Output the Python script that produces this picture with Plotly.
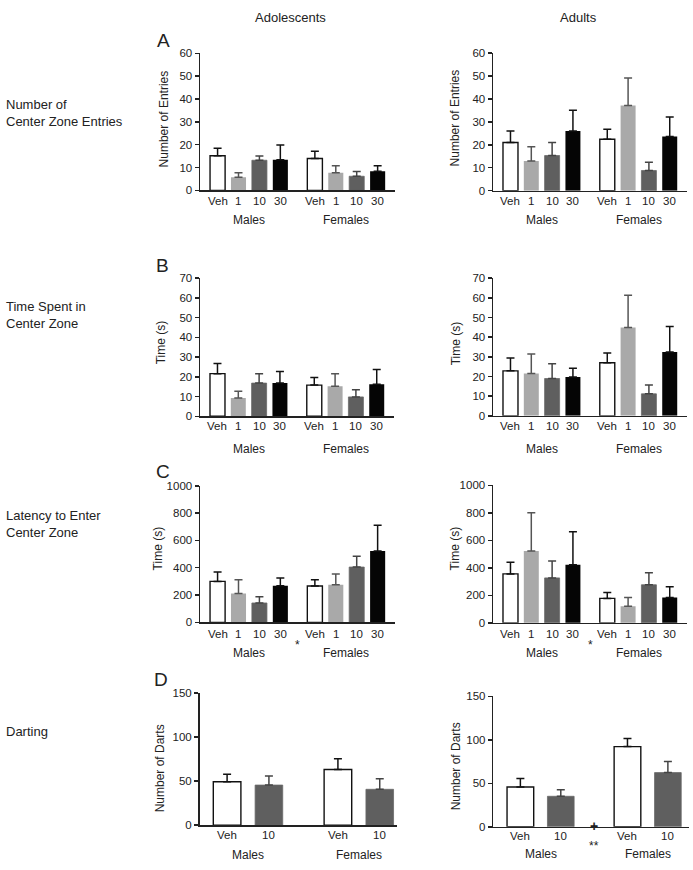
import plotly.graph_objects as go

W, H = 693, 870

# ---------------- data ----------------
doses = ["Veh", "1", "10", "30"]
dart_doses = ["Veh", "10"]
groups = ["Males", "Females"]

# order: Males Veh,1,10,30, Females Veh,1,10,30
entries_adol_mean = [15.2, 5.8, 13.2, 13.4, 14.0, 7.7, 6.2, 8.4]
entries_adol_sem = [3.3, 1.9, 1.9, 6.5, 3.2, 3.1, 2.1, 2.4]
entries_adult_mean = [21.0, 12.9, 15.3, 26.0, 22.4, 37.1, 8.8, 23.6]
entries_adult_sem = [5.0, 6.2, 5.7, 9.0, 4.3, 11.9, 3.6, 8.5]

time_adol_mean = [21.6, 9.3, 16.8, 16.8, 15.8, 15.2, 9.8, 16.2]
time_adol_sem = [5.2, 3.4, 4.7, 5.9, 3.9, 6.3, 3.7, 7.5]
time_adult_mean = [22.9, 21.5, 19.0, 19.8, 27.0, 44.9, 11.2, 32.5]
time_adult_sem = [6.5, 10.0, 7.5, 4.4, 4.9, 16.4, 4.5, 12.9]

latency_adol_mean = [300, 211, 142, 268, 266, 276, 405, 523]
latency_adol_sem = [69, 101, 45, 56, 46, 79, 79, 189]
latency_adult_mean = [356, 523, 327, 423, 178, 121, 277, 184]
latency_adult_sem = [84, 277, 123, 240, 43, 63, 88, 78]

# order: Males Veh,10, Females Veh,10
darts_adol_mean = [49.3, 45.6, 63.3, 40.8]
darts_adol_sem = [8.5, 10.4, 12.3, 11.9]
darts_adult_mean = [45.7, 35.1, 92.2, 62.3]
darts_adult_sem = [9.8, 7.5, 9.4, 12.9]

# ---------------- styles ----------------
FONT = "Liberation Sans, Arial, sans-serif"
AX = "#222222"
dose_style = {
    "Veh": dict(fill="#ffffff", line="#111111", lw=1.4, err="#111111"),
    "1": dict(fill="#a9a9a9", line="#a9a9a9", lw=0, err="#555555"),
    "10": dict(fill="#5f5f5f", line="#6a6a6a", lw=0.8, err="#444444"),
    "30": dict(fill="#050505", line="#050505", lw=0, err="#111111"),
}


def px_x(p):
    return p / W


def px_y(p):
    return 1 - p / H


panels = [
    ((200, 395, 48, 187), entries_adol_mean, entries_adol_sem, doses, 60, 10, "Number of Entries", 164, 115, 4),
    ((493, 687, 47.5, 187.3), entries_adult_mean, entries_adult_sem, doses, 60, 10, "Number of Entries", 455, 114, 4),
    ((200, 394, 276, 416), time_adol_mean, time_adol_sem, doses, 70, 10, "Time (s)", 161, 341, 4),
    ((493, 687, 276, 415.6), time_adult_mean, time_adult_sem, doses, 70, 10, "Time (s)", 456, 342, 4),
    ((200, 395, 486.5, 625), latency_adol_mean, latency_adol_sem, doses, 1000, 200, "Time (s)", 158, 550, 4),
    ((493, 687, 486, 625.5), latency_adult_mean, latency_adult_sem, doses, 1000, 200, "Time (s)", 455, 550, 4),
    ((199.5, 397.3, 696.7, 830.7), darts_adol_mean, darts_adol_sem, dart_doses, 150, 50, "Number of Darts", 160, 773, 2),
    ((493.3, 689.3, 700, 832.3), darts_adult_mean, darts_adult_sem, dart_doses, 150, 50, "Number of Darts", 456, 771, 2),
]

tick_label_y = [198, 198, 426, 426, 637, 637, 841, 842]
group_label_y = [217, 217, 449, 449, 656, 656, 861, 860]

fig = go.Figure()
annotations = []
layout = dict(
    width=W, height=H, margin=dict(l=0, r=0, t=0, b=0),
    paper_bgcolor="white", plot_bgcolor="white",
    showlegend=False, barmode="overlay",
    font=dict(family=FONT, size=11, color=AX),
)

for i, (box, mean, sem, labels, ymax, dtick, ytitle, tx, ty, n) in enumerate(panels):
    k = i + 1
    xa = "x" if k == 1 else f"x{k}"
    ya = "y" if k == 1 else f"y{k}"
    left, right, top, bottom = box
    if n == 4:
        gap = 4.65
        bw = 0.72
        xr = [-0.84, 8.48]
    else:
        gap = 2.65
        bw = 0.66
        xr = [-0.66, 4.07] if i == 6 else [-0.67, 4.18]
    positions = []
    for g in range(2):
        for d in range(n):
            positions.append(d + g * gap)
    for d, lab in enumerate(labels):
        st = dose_style[lab]
        idx = [d, d + n]
        fig.add_trace(go.Bar(
            x=[positions[j] for j in idx],
            y=[mean[j] for j in idx],
            width=bw,
            marker=dict(color=st["fill"], line=dict(color=st["line"], width=st["lw"])),
            error_y=dict(type="data", symmetric=False,
                         array=[sem[j] for j in idx], arrayminus=[0, 0],
                         color=st["err"], thickness=1.5, width=4),
            xaxis=xa, yaxis=ya, hoverinfo="skip",
        ))
    layout[f"xaxis{'' if k == 1 else k}"] = dict(
        domain=[px_x(left), px_x(right)], anchor=ya, range=xr,
        showline=True, linecolor=AX, linewidth=1.5, ticks="",
        tickvals=positions, ticktext=[labels[j % n] for j in range(2 * n)],
        showgrid=False, zeroline=False, fixedrange=True,
        showticklabels=False,
    )
    layout[f"yaxis{'' if k == 1 else k}"] = dict(
        domain=[px_y(bottom), px_y(top)], anchor=xa, range=[0, ymax],
        dtick=dtick, tick0=0, showline=True, linecolor=AX, linewidth=1.5,
        ticks="outside", ticklen=4, tickwidth=1.5, tickcolor=AX,
        showgrid=False, zeroline=False, fixedrange=True,
        tickfont=dict(family=FONT, size=11.5, color=AX),
    )
    for j, p in enumerate(positions):
        annotations.append(dict(
            x=p, y=px_y(tick_label_y[i]), xref=xa, yref="paper",
            text=labels[j % n], showarrow=False, xanchor="center", yanchor="middle",
            font=dict(family=FONT, size=11.5, color=AX),
        ))
    for g in range(2):
        cx = (positions[g * n] + positions[g * n + n - 1]) / 2
        annotations.append(dict(
            x=cx, y=px_y(group_label_y[i]), xref=xa, yref="paper",
            text=groups[g], showarrow=False, xanchor="center", yanchor="middle",
            font=dict(family=FONT, size=12, color=AX),
        ))
    annotations.append(dict(
        x=px_x(tx), y=px_y(ty), xref="paper", yref="paper", text=ytitle,
        textangle=-90, showarrow=False, xanchor="center", yanchor="middle",
        font=dict(family=FONT, size=12, color=AX),
    ))
    mid = (positions[n - 1] + positions[n]) / 2
    if i in (4, 5):
        annotations.append(dict(x=mid, y=px_y(group_label_y[i] + 1), xref=xa, yref="paper",
                                text="*", showarrow=False, font=dict(family=FONT, size=12, color=AX)))
    if i == 7:
        annotations.append(dict(x=mid, y=px_y(tick_label_y[i]), xref=xa, yref="paper",
                                text="<b>+</b>", showarrow=False, font=dict(family=FONT, size=14, color=AX)))
        annotations.append(dict(x=mid, y=px_y(group_label_y[i] + 1), xref=xa, yref="paper",
                                text="**", showarrow=False, font=dict(family=FONT, size=12, color=AX)))

for txt, cx in [("Adolescents", 290), ("Adults", 578)]:
    annotations.append(dict(x=px_x(cx), y=px_y(12), xref="paper", yref="paper", text=txt,
                            showarrow=False, xanchor="center", yanchor="middle",
                            font=dict(family=FONT, size=13, color=AX)))

for txt, cx, cy in [("A", 163, 35), ("B", 162.5, 263), ("C", 163, 472), ("D", 161, 683)]:
    annotations.append(dict(x=px_x(cx), y=px_y(cy), xref="paper", yref="paper", text=txt,
                            showarrow=False, xanchor="center", yanchor="middle",
                            font=dict(family=FONT, size=19, color=AX)))

for txt, cy in [("Number of<br>Center Zone Entries", 108.5), ("Time Spent in<br>Center Zone", 313.5),
                ("Latency to Enter<br>Center Zone", 525), ("Darting", 736)]:
    annotations.append(dict(x=px_x(4), y=px_y(cy), xref="paper", yref="paper", text=txt,
                            showarrow=False, xanchor="left", yanchor="middle", align="left",
                            font=dict(family=FONT, size=13, color=AX)))

layout["annotations"] = annotations
fig.update_layout(**layout)
fig.write_html(
    "out.html",
    config={"displayModeBar": False, "staticPlot": True},
    post_script="document.body.style.margin='0';document.body.style.overflow='hidden';"
                "document.documentElement.style.overflow='hidden';",
)
